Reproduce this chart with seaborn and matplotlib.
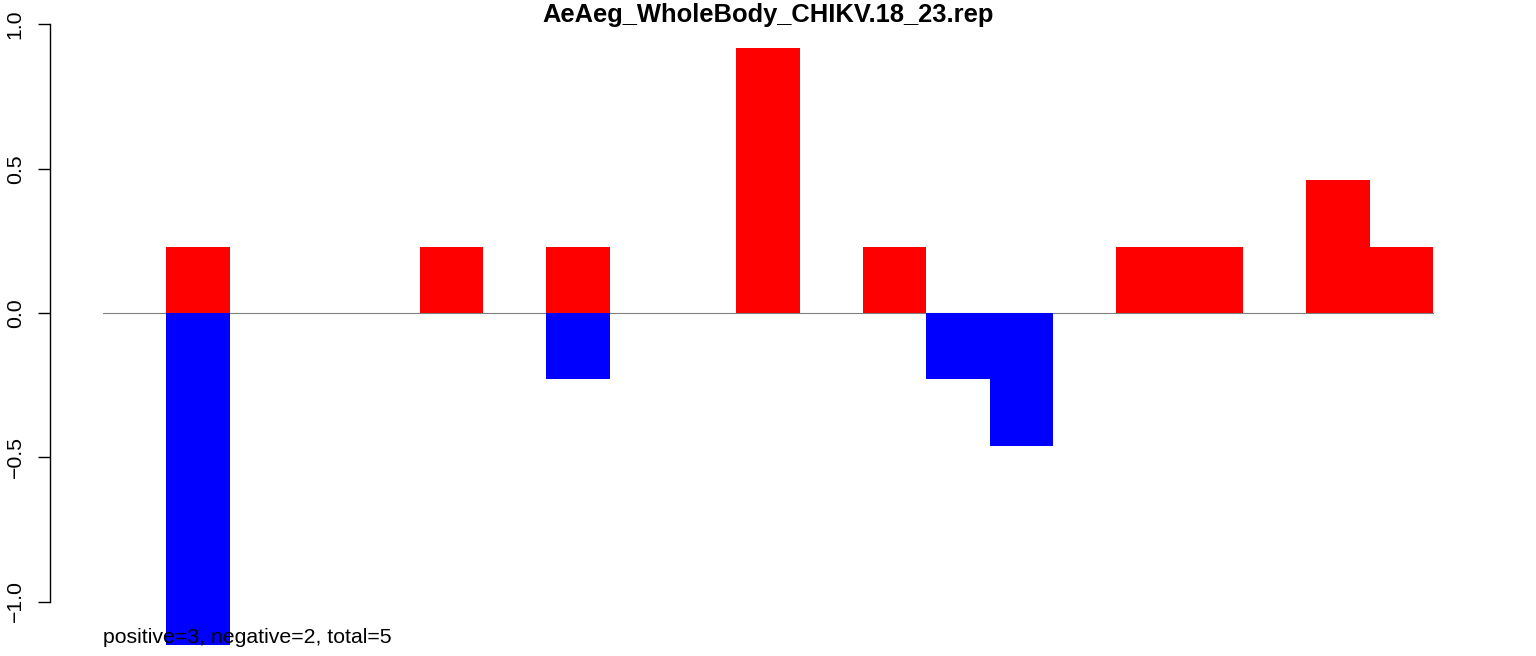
import matplotlib
matplotlib.use("Agg")
import matplotlib.pyplot as plt
import seaborn as sns
import pandas as pd

# data: slot index (0..20) and values
slots = list(range(21))
pos_slots = [1, 5, 7, 10, 12, 16, 17, 19, 20]
pos_values = [0.23, 0.23, 0.23, 0.92, 0.23, 0.23, 0.23, 0.46, 0.23]
neg_slots = [1, 7, 13, 14]
neg_values = [-1.15, -0.23, -0.23, -0.46]
yticks = [-1.0, -0.5, 0.0, 0.5, 1.0]
ytick_labels = ["\u22121.0", "\u22120.5", "0.0", "0.5", "1.0"]
title = "AeAeg_WholeBody_CHIKV.18_23.rep"
note = "positive=3, negative=2, total=5"

plt.rcParams['font.family'] = ['Liberation Sans', 'DejaVu Sans']

W, H = 1536, 656
fig = plt.figure(figsize=(W / 100, H / 100), dpi=100)
ax = fig.add_axes([50 / W, (H - 624.6) / H, (1486 - 50) / W, (624.6 - 1.4) / H])

df_pos = pd.DataFrame({"slot": pos_slots, "value": pos_values})
df_neg = pd.DataFrame({"slot": neg_slots, "value": neg_values})

sns.barplot(data=df_pos, x="slot", y="value", order=slots, color="#FF0000",
            width=1.0, saturation=1, linewidth=0, ax=ax, errorbar=None)
sns.barplot(data=df_neg, x="slot", y="value", order=slots, color="#0000FF",
            width=1.0, saturation=1, linewidth=0, ax=ax, errorbar=None)
for p in ax.patches:
    p.set_clip_on(False)

ax.plot([-0.5, 20.5], [0, 0], color="#808080", lw=0.8, zorder=0.5)

ax.set_xlim(-1.337, 21.337)
ax.set_ylim(-1.08, 1.08)
ax.set_xlabel("")
ax.set_ylabel("")
ax.set_xticks([])
for s in ["top", "right", "bottom"]:
    ax.spines[s].set_visible(False)
ax.spines["left"].set_bounds(-1, 1)
ax.spines["left"].set_linewidth(1.0)
ax.set_yticks(yticks)
ax.set_yticklabels(ytick_labels, rotation=90, va="center", ha="right")
ax.tick_params(axis="y", length=8.6, width=1.0, pad=9.5, labelsize=15.3)
ax.set_facecolor("white")

ax.text(-0.5, -1.144, note, ha="left", va="baseline", fontsize=15.3)
fig.text(768 / W, 1 - 22 / H, title, ha="center", va="baseline",
         fontsize=18.4, fontweight="bold")

fig.savefig("out.png", dpi=100, facecolor="white")
